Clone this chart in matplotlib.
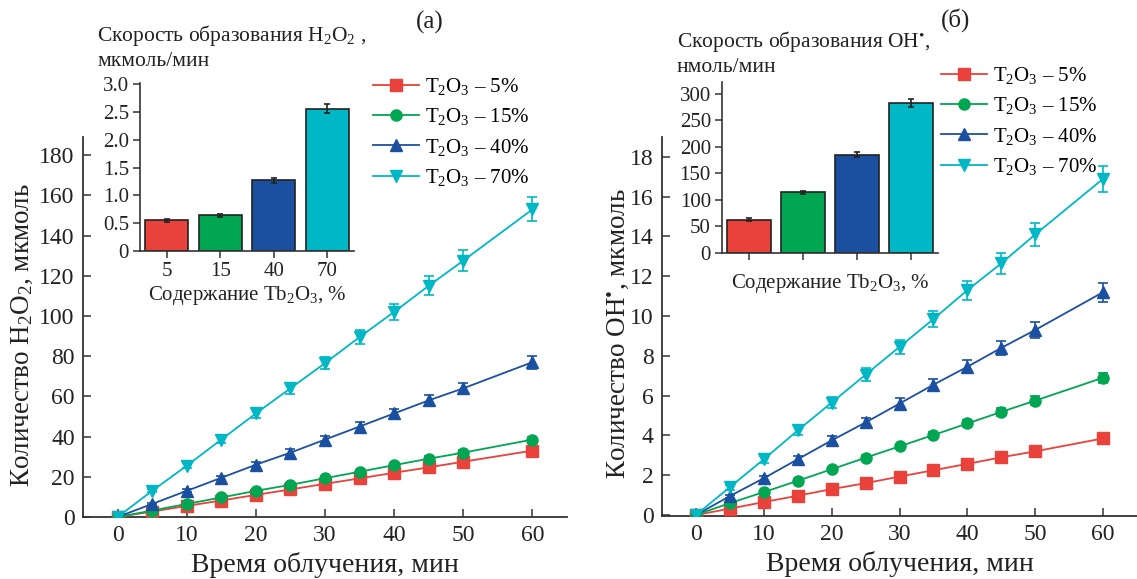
import matplotlib
matplotlib.use("Agg")
import matplotlib.pyplot as plt
import numpy as np

plt.rcParams['font.family'] = ['Liberation Serif', 'DejaVu Serif']
plt.rcParams['mathtext.fontset'] = 'custom'
plt.rcParams['mathtext.rm'] = 'Liberation Serif'
plt.rcParams['mathtext.it'] = 'Liberation Serif:italic'

# time points, min
t = [0, 5, 10, 15, 20, 25, 30, 35, 40, 45, 50, 60]

# H2O2 amount, umol
h2o2_5 = [0, 2.7, 5.5, 8.2, 11, 13.7, 16.5, 19.2, 22, 24.7, 27.5, 33]
h2o2_15 = [0, 3.2, 6.5, 9.7, 13, 16, 19.3, 22.5, 25.8, 29, 32, 38.5]
h2o2_40 = [0, 6.5, 13, 19.5, 26, 32, 38.5, 45, 51.5, 58, 64, 77]
h2o2_70 = [0, 13, 25.5, 38.5, 51.5, 64, 76.5, 89.5, 102, 115, 127.5, 153]
h2o2_err_5 = [0, 0.2, 0.3, 0.4, 0.5, 0.6, 0.7, 0.8, 0.9, 1.0, 1.1, 1.3]
h2o2_err_15 = [0, 0.2, 0.3, 0.4, 0.5, 0.6, 0.8, 0.9, 1.0, 1.1, 1.3, 1.5]
h2o2_err_40 = [0, 0.5, 0.8, 1.0, 1.3, 1.6, 1.9, 2.1, 2.3, 2.6, 2.8, 3.3]
h2o2_err_70 = [0, 0.8, 1.2, 1.7, 2.2, 2.6, 3.1, 3.6, 4.1, 4.7, 5.2, 6.0]

# OH radical amount, umol
oh_5 = [0, 0.32, 0.65, 0.97, 1.3, 1.6, 1.93, 2.25, 2.57, 2.9, 3.2, 3.85]
oh_15 = [0, 0.6, 1.15, 1.72, 2.3, 2.88, 3.45, 4.02, 4.6, 5.18, 5.75, 6.9]
oh_40 = [0, 0.95, 1.85, 2.8, 3.75, 4.65, 5.6, 6.55, 7.45, 8.4, 9.3, 11.2]
oh_70 = [0, 1.4, 2.8, 4.25, 5.65, 7.05, 8.45, 9.85, 11.3, 12.65, 14.1, 16.9]
oh_err_5 = [0, 0.03, 0.04, 0.05, 0.06, 0.07, 0.08, 0.09, 0.1, 0.1, 0.11, 0.12]
oh_err_15 = [0, 0.05, 0.07, 0.09, 0.11, 0.13, 0.14, 0.16, 0.18, 0.2, 0.22, 0.26]
oh_err_40 = [0, 0.08, 0.12, 0.16, 0.2, 0.24, 0.27, 0.3, 0.33, 0.36, 0.4, 0.47]
oh_err_70 = [0, 0.12, 0.17, 0.22, 0.27, 0.32, 0.37, 0.42, 0.47, 0.52, 0.58, 0.66]

# inset bars: formation rates
content = ['5', '15', '40', '70']
rate_h2o2 = [0.55, 0.64, 1.27, 2.56]
rate_h2o2_err = [0.02, 0.02, 0.04, 0.08]
rate_oh = [63, 114, 185, 282]
rate_oh_err = [2, 3, 5, 8]

labels = [r'T$_2$O$_3$ – 5%', r'T$_2$O$_3$ – 15%', r'T$_2$O$_3$ – 40%', r'T$_2$O$_3$ – 70%']
colors = ['#E8423A', '#00A651', '#1B50A0', '#00B7C6']
markers = ['s', 'o', '^', 'v']

fig = plt.figure(figsize=(11.37, 5.79), dpi=100)
W, H = 1137.0, 579.0


def px_axes(x0, x1, ytop, ybot):
    return fig.add_axes([x0 / W, 1 - ybot / H, (x1 - x0) / W, (ybot - ytop) / H])


def main_panel(ax, series, errs, ylim, yticks, ylabel):
    handles = []
    for y, e, c, m, lab in zip(series, errs, colors, markers, labels):
        ax.errorbar(t, y, yerr=e, fmt='none', ecolor=c, elinewidth=1.2,
                    capsize=3.5, capthick=1.2, zorder=2)
        h, = ax.plot(t, y, color=c, marker=m, markersize=8, linewidth=1.3,
                     label=lab, zorder=3)
        handles.append(h)
    ax.set_xlim(-5, 65)
    ax.set_ylim(*ylim)
    ax.set_xticks([0, 10, 20, 30, 40, 50, 60])
    ax.set_yticks(yticks)
    for s in ['top', 'right']:
        ax.spines[s].set_visible(False)
    for s in ['left', 'bottom']:
        ax.spines[s].set_color('#333333')
        ax.spines[s].set_linewidth(1.3)
    ax.tick_params(direction='in', length=6, width=1.1, labelsize=17, pad=6,
                   colors='#333333', labelcolor='#222222')
    ax.set_xlabel('Время облучения, мин', fontsize=20, color='#222222', labelpad=4)
    ax.set_ylabel(ylabel, fontsize=19.5, color='#222222')
    return handles


def inset_panel(ax, vals, errs, ylim, yticks, yticklabels, show_xlabels):
    ax.bar(range(4), vals, width=0.8, color=colors, edgecolor='#222222', linewidth=1.2)
    ax.errorbar(range(4), vals, yerr=errs, fmt='none', ecolor='#222222',
                elinewidth=1.2, capsize=2, capthick=1.2)
    ax.set_xlim(-0.5, 3.5)
    ax.set_ylim(*ylim)
    ax.set_yticks(yticks)
    ax.set_yticklabels(yticklabels)
    ax.set_xticks(range(4))
    if show_xlabels:
        ax.set_xticklabels(content)
    else:
        ax.set_xticklabels([])
    for s in ['top', 'right']:
        ax.spines[s].set_visible(False)
    for s in ['left', 'bottom']:
        ax.spines[s].set_color('#333333')
        ax.spines[s].set_linewidth(1.2)
    ax.tick_params(direction='out', length=5, width=1.1, labelsize=15, pad=3,
                   colors='#333333', labelcolor='#222222')
    ax.set_xlabel(r'Содержание Tb$_2$O$_3$, %', fontsize=15, color='#222222',
                  labelpad=2 if show_xlabels else 6)
    ax.patch.set_alpha(0)


# left panel (а)
ax1 = px_axes(83, 567, 137, 517)
h1 = main_panel(ax1, [h2o2_5, h2o2_15, h2o2_40, h2o2_70],
                [h2o2_err_5, h2o2_err_15, h2o2_err_40, h2o2_err_70],
                (0, 189), range(0, 181, 20), r'Количество H$_2$O$_2$, мкмоль')
ax1.yaxis.set_label_coords(-0.1, 0.48)
fig.legend(handles=h1, loc='upper left', bbox_to_anchor=(373 / W, 1 - 76 / H),
           frameon=False, fontsize=15, handlelength=2.2, handletextpad=0.3,
           labelspacing=0.45, borderpad=0, borderaxespad=0)

in1 = px_axes(140, 354, 83, 251)
inset_panel(in1, rate_h2o2, rate_h2o2_err, (0, 3.02), [0, 0.5, 1, 1.5, 2, 2.5, 3],
            ['0', '0.5', '1.0', '1.5', '2.0', '2.5', '3.0'], True)
fig.text(97 / W, 1 - 35 / H, r'Скорость образования H$_2$O$_2$ ,', fontsize=15.5,
         va='center', ha='left', color='#222222')
fig.text(97 / W, 1 - 62 / H, 'мкмоль/мин', fontsize=15.5, va='center', ha='left',
         color='#222222')
fig.text(430 / W, 1 - 22 / H, '(а)', fontsize=18, va='center', ha='center', color='#222222')

# right panel (б)
ax2 = px_axes(662, 1137, 137, 516)
h2 = main_panel(ax2, [oh_5, oh_15, oh_40, oh_70],
                [oh_err_5, oh_err_15, oh_err_40, oh_err_70],
                (-0.05, 19.0), range(0, 19, 2), r'Количество OH$^{•}$, мкмоль')
ax2.yaxis.set_label_coords(-0.066, 0.48)
fig.legend(handles=h2, loc='upper left', bbox_to_anchor=(941 / W, 1 - 65 / H),
           frameon=False, fontsize=15, handlelength=2.2, handletextpad=0.3,
           labelspacing=0.45, borderpad=0, borderaxespad=0)

in2 = px_axes(722, 938, 82, 253)
inset_panel(in2, rate_oh, rate_oh_err, (0, 322), range(0, 301, 50),
            [str(v) for v in range(0, 301, 50)], False)
fig.text(677 / W, 1 - 41 / H, r'Скорость образования OH$^{•}$,', fontsize=15.5,
         va='center', ha='left', color='#222222')
fig.text(677 / W, 1 - 67 / H, 'нмоль/мин', fontsize=15.5, va='center', ha='left',
         color='#222222')
fig.text(956 / W, 1 - 20 / H, '(б)', fontsize=18, va='center', ha='center', color='#222222')

fig.savefig('out.png', dpi=100)
